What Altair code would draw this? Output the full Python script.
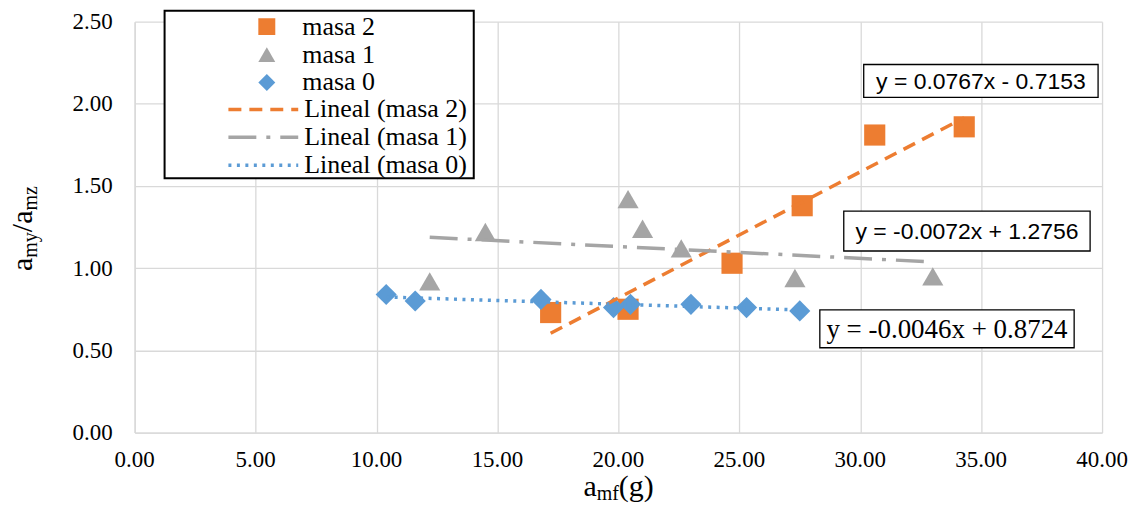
import altair as alt
import pandas as pd

# ---------------- data ----------------
series_names = ["masa 2", "masa 1", "masa 0"]
trend_names = ["Lineal (masa 2)", "Lineal (masa 1)", "Lineal (masa 0)"]

x_m2 = [17.2, 20.4, 24.7, 27.6, 30.6, 34.3]
y_m2 = [0.73, 0.75, 1.03, 1.38, 1.81, 1.86]

x_m1 = [12.2, 14.5, 20.4, 21.0, 22.6, 27.3, 33.0]
y_m1 = [0.92, 1.22, 1.42, 1.24, 1.12, 0.94, 0.95]

x_m0 = [10.4, 11.6, 16.8, 19.8, 20.5, 23.0, 25.3, 27.5]
y_m0 = [0.84, 0.80, 0.81, 0.76, 0.78, 0.78, 0.76, 0.74]

slopes = [0.0767, -0.0072, -0.0046]
intercepts = [-0.7153, 1.2756, 0.8724]
eq_labels = ["y = 0.0767x - 0.7153", "y = -0.0072x + 1.2756", "y = -0.0046x + 0.8724"]

x_ticks = [0, 5, 10, 15, 20, 25, 30, 35, 40]
y_ticks = [0, 0.5, 1.0, 1.5, 2.0, 2.5]

colors = ["#ED7D31", "#A5A5A5", "#5B9BD5"]
shapes = ["square", "triangle-up", "diamond"]
dashes = [[13, 8], [28, 10, 4, 10], [3, 5.5]]

# ---------------- tables ----------------
xs = [x_m2, x_m1, x_m0]
ys = [y_m2, y_m1, y_m0]
rows = []
for name, xv, yv in zip(series_names, xs, ys):
    for a, b in zip(xv, yv):
        rows.append({"x": a, "y": b, "serie": name})
pts = pd.DataFrame(rows)

trows = []
for name, xv, m, c in zip(trend_names, xs, slopes, intercepts):
    for a in (min(xv), max(xv)):
        trows.append({"x": a, "y": m * a + c, "trend": name})
tr = pd.DataFrame(trows)

xt = pd.DataFrame({"x": x_ticks, "lab": [f"{v:.2f}" for v in x_ticks]})
yt = pd.DataFrame({"y": y_ticks, "lab": [f"{v:.2f}" for v in y_ticks]})

one = pd.DataFrame({"k": [0]})

SERIF = "Liberation Serif"
SANS = "Liberation Sans"

pt_legend = alt.Legend(
    orient="none", legendX=119.5, legendY=-8.8, title=None,
    labelFont=SERIF, labelFontSize=26, labelColor="black", labelLimit=400,
    symbolSize=289, symbolStrokeWidth=0, symbolOpacity=1,
    clipHeight=27.6, rowPadding=0, labelOffset=22.5, padding=0,
)
ln_legend = alt.Legend(
    orient="none", legendX=92, legendY=74.2, title=None,
    labelFont=SERIF, labelFontSize=26, labelColor="black", labelLimit=400,
    symbolSize=4900, symbolStrokeWidth=3.5, symbolType="stroke",
    clipHeight=27.6, rowPadding=0, labelOffset=4, padding=0,
)

xaxis = alt.Axis(values=x_ticks, title=None, labels=False)
yaxis = alt.Axis(values=y_ticks, title=None, labels=False)
xsc = alt.Scale(domain=[0, 40], nice=False, zero=False)
ysc = alt.Scale(domain=[0, 2.5], nice=False, zero=False)

points = alt.Chart(pts).mark_point(filled=True, opacity=1, size=450, strokeWidth=0).encode(
    x=alt.X("x:Q", scale=xsc, axis=xaxis),
    y=alt.Y("y:Q", scale=ysc, axis=yaxis),
    color=alt.Color("serie:N", scale=alt.Scale(domain=series_names, range=colors), legend=pt_legend),
    shape=alt.Shape("serie:N", scale=alt.Scale(domain=series_names, range=shapes), legend=pt_legend),
)

lines = alt.Chart(tr).mark_line(strokeWidth=3.5).encode(
    x=alt.X("x:Q", axis=xaxis),
    y=alt.Y("y:Q", axis=yaxis),
    color=alt.Color("trend:N", scale=alt.Scale(domain=trend_names, range=colors), legend=ln_legend),
    strokeDash=alt.StrokeDash("trend:N", scale=alt.Scale(domain=trend_names, range=dashes), legend=ln_legend),
)

# tick labels (positioned through the scales)
xlabels = alt.Chart(xt).mark_text(font=SERIF, fontSize=23, color="black", align="center",
                                  baseline="alphabetic").encode(
    x=alt.X("x:Q", axis=xaxis), y=alt.value(447), text="lab:N")
ylabels = alt.Chart(yt).mark_text(font=SERIF, fontSize=23, color="black", align="right",
                                  baseline="alphabetic", dy=7.5).encode(
    y=alt.Y("y:Q", axis=yaxis), x=alt.value(-22), text="lab:N")

# equation label boxes (plot-pixel layout)
boxes = [(731, 966, 43, 76), (711, 958, 190, 230), (687, 942, 289, 327)]
eq_fonts = [(SANS, 23), (SANS, 23), (SERIF, 27)]
eq_layers = []
for (x1, x2, y1, y2), lab, (fnt, fs) in zip(boxes, eq_labels, eq_fonts):
    eq_layers.append(
        alt.Chart(one).mark_rect(fill="white", stroke="black", strokeWidth=1.3).encode(
            x=alt.value(x1), x2=alt.value(x2), y=alt.value(y1), y2=alt.value(y2))
    )
    eq_layers.append(
        alt.Chart(one).mark_text(text=lab, font=fnt, fontSize=fs, color="black",
                                 align="center", baseline="middle").encode(
            x=alt.value((x1 + x2) / 2), y=alt.value((y1 + y2) / 2 + 1))
    )

legend_frame = alt.Chart(one).mark_rect(fill="white", stroke="black", strokeWidth=2).encode(
    x=alt.value(30), x2=alt.value(340), y=alt.value(-11), y2=alt.value(157))

# axis titles with subscripts
def piece(txt, x, y, fs, angle=0):
    kw = dict(text=txt, font=SERIF, fontSize=fs, color="black", align="left", baseline="alphabetic")
    if angle:
        kw["angle"] = angle
    return alt.Chart(one).mark_text(**kw).encode(x=alt.value(x), y=alt.value(y))

title_layers = [
    piece("a", 450, 475.5, 30), piece("mf", 463.3, 479.5, 20), piece("(g)", 485.5, 475.5, 30),
    piece("a", -103, 250, 30, 270), piece("my", -98, 236.7, 20, 270),
    piece("/a", -103, 211.1, 30, 270), piece("mz", -98, 189.4, 20, 270),
]

chart = alt.layer(points, lines, xlabels, ylabels, *eq_layers, legend_frame, *title_layers).resolve_scale(
    color="independent", shape="independent", strokeDash="independent"
).properties(
    width=970, height=412,
    autosize=alt.AutoSizeParams(type="none"),
    padding={"left": 127, "top": 13, "right": 28, "bottom": 71},
).configure_view(strokeWidth=0).configure_axis(
    gridColor="#D9D9D9", gridWidth=1.3, domainColor="#D9D9D9", domainWidth=1.3,
    ticks=False,
)

chart.save("out.html", embed_options={"renderer": "svg", "actions": False})
